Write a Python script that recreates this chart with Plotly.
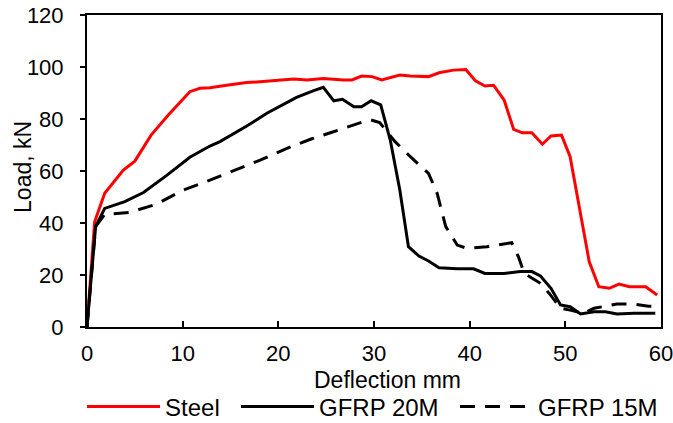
import plotly.graph_objects as go

steel_x = [0, 0.8, 1.85, 3.8, 5.0, 6.7, 8.5, 10.75, 11.8, 12.85, 14.6, 16.7, 18.4, 20.2, 21.6, 23.0, 24.7, 26.8, 27.7, 28.7, 29.8, 30.8, 32.7, 33.8, 35.7, 36.8, 38.3, 39.6, 40.6, 41.6, 42.5, 43.6, 44.6, 45.5, 46.5, 47.6, 48.5, 49.6, 50.5, 52.5, 53.5, 54.6, 55.6, 56.7, 58.4, 59.6]
steel_y = [0, 40.5, 51.4, 60.4, 63.8, 73.8, 81.5, 90.5, 91.8, 92.0, 93.0, 94.0, 94.4, 95.0, 95.4, 95.0, 95.6, 95.0, 95.0, 96.5, 96.3, 95.0, 96.9, 96.5, 96.3, 97.8, 98.8, 99.0, 94.7, 92.7, 93.0, 87.3, 76.0, 74.7, 74.7, 70.3, 73.5, 73.8, 65.5, 25.1, 15.5, 14.9, 16.5, 15.5, 15.5, 12.3]

g20_x = [0, 0.9, 1.85, 3.95, 5.9, 8.3, 10.75, 12.85, 13.9, 16.7, 18.8, 21.9, 23.7, 24.7, 25.8, 26.7, 27.9, 28.7, 29.7, 30.7, 31.7, 32.7, 33.6, 34.7, 35.7, 36.8, 38.7, 40.4, 41.6, 43.6, 45.3, 46.5, 47.4, 48.5, 49.5, 50.5, 51.6, 53.0, 54.2, 55.4, 57.2, 59.4]
g20_y = [0, 38.6, 45.6, 48.2, 51.7, 58.2, 65.3, 69.6, 71.3, 77.3, 82.2, 88.3, 90.9, 92.2, 87.0, 87.6, 84.7, 84.7, 87.0, 85.4, 71.9, 52.7, 30.9, 27.3, 25.4, 22.8, 22.4, 22.4, 20.6, 20.6, 21.3, 21.3, 19.6, 14.9, 8.5, 7.8, 5.0, 5.9, 5.9, 5.0, 5.3, 5.3]

g15_x = [0, 0.9, 1.85, 4.5, 7.3, 9.9, 12.85, 15.3, 18.1, 20.9, 23.5, 25.6, 27.5, 28.6, 29.7, 30.6, 32.2, 33.8, 35.7, 36.6, 37.5, 38.7, 39.7, 41.8, 44.4, 45.1, 45.7, 46.2, 47.4, 48.3, 49.5, 50.5, 51.9, 53.0, 55.4, 57.2, 58.7, 59.5]
g15_y = [0, 38.6, 43.3, 44.1, 47.3, 52.4, 56.5, 60.1, 64.2, 68.7, 72.4, 74.9, 77.3, 78.6, 79.6, 78.6, 71.3, 65.5, 59.1, 51.4, 38.6, 31.5, 30.3, 30.9, 32.4, 27.0, 20.6, 19.4, 16.8, 13.0, 7.2, 6.5, 5.3, 7.2, 8.8, 8.8, 8.0, 8.0]

x_ticks = [0, 10, 20, 30, 40, 50, 60]
y_ticks = [0, 20, 40, 60, 80, 100, 120]
x_title = "Deflection mm"
y_title = "Load, kN"

FONT = "Liberation Sans, Arial, sans-serif"

fig = go.Figure()
fig.add_trace(go.Scatter(x=steel_x, y=steel_y, mode="lines", name="Steel",
                         line=dict(color="#ff0000", width=3), legend="legend"))
fig.add_trace(go.Scatter(x=g20_x, y=g20_y, mode="lines", name="GFRP 20M",
                         line=dict(color="#000000", width=3), legend="legend2"))
fig.add_trace(go.Scatter(x=g15_x, y=g15_y, mode="lines", name="GFRP 15M",
                         line=dict(color="#000000", width=3, dash="15px,10px"),
                         legend="legend3"))

def leg(xpos):
    return dict(orientation="h", x=xpos, xanchor="left", xref="paper",
                y=0.038, yanchor="middle", yref="container",
                font=dict(size=24), itemwidth=73, bgcolor="rgba(0,0,0,0)")

fig.update_layout(
    width=673, height=423,
    margin=dict(l=87, r=12, t=15, b=96),
    paper_bgcolor="white", plot_bgcolor="white",
    font=dict(family=FONT, size=22, color="#000000"),
    showlegend=True,
    legend=leg(-0.0087),
    legend2=leg(0.2596),
    legend3=leg(0.6411),
    annotations=[
        dict(text=x_title, xref="paper", yref="paper", x=0.524, y=-0.17,
             xanchor="center", yanchor="middle", showarrow=False,
             font=dict(size=23, color="#000000")),
        dict(text=y_title, xref="paper", yref="paper", x=-0.1115, y=0.513,
             xanchor="center", yanchor="middle", showarrow=False, textangle=-90,
             font=dict(size=23, color="#000000")),
    ],
)
fig.update_xaxes(range=[0, 60], tickvals=x_ticks, ticktext=[str(v) for v in x_ticks],
                 showgrid=False, zeroline=False, showline=True, linecolor="#000000",
                 linewidth=2, mirror=True, ticks="inside", ticklen=6, tickwidth=1.5,
                 tickcolor="#000000", automargin=False, ticklabelstandoff=6,
                 ticklabeloverflow="allow", tickfont=dict(size=22))
fig.update_yaxes(range=[0, 120], tickvals=y_ticks, ticktext=[str(v) for v in y_ticks],
                 showgrid=False, zeroline=False, showline=True, linecolor="#000000",
                 linewidth=2, mirror=True, ticks="outside", ticklen=5, tickwidth=1.5,
                 tickcolor="#000000", automargin=False, ticklabelstandoff=12,
                 ticklabeloverflow="allow", tickfont=dict(size=22))

fig.write_html("out.html", config={"displayModeBar": False},
               post_script="document.body.style.margin='0px';")
